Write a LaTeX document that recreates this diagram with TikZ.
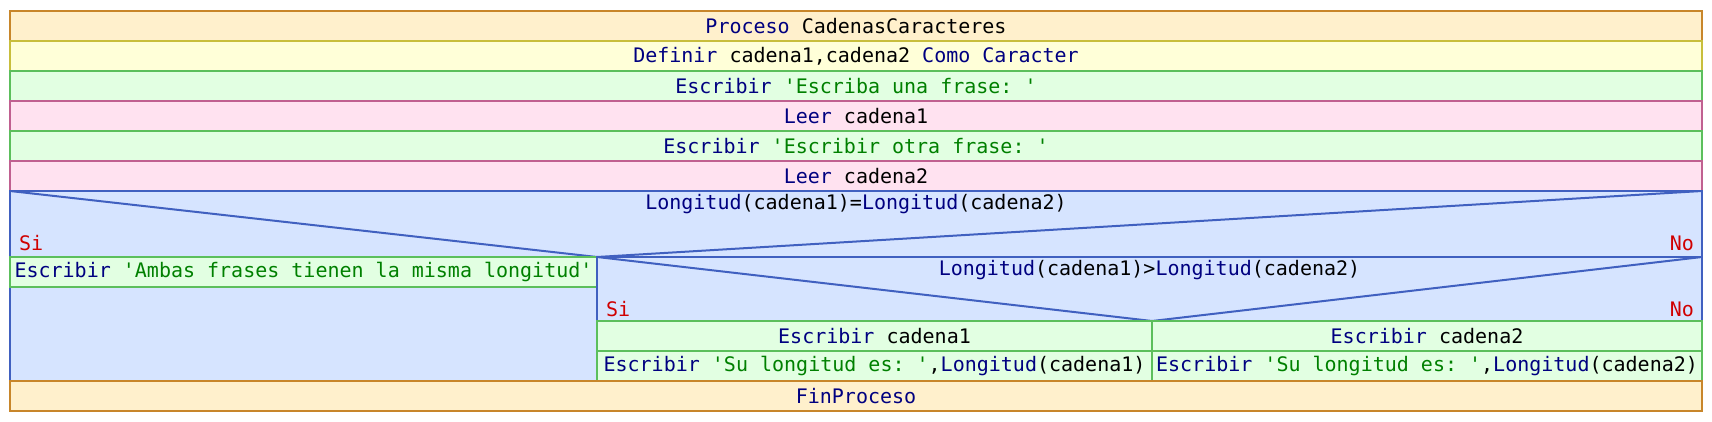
\documentclass[tikz,border=0pt]{standalone}
\usepackage{fontspec}
\setmonofont{DejaVu Sans Mono}
\usepackage{xcolor}
\usetikzlibrary{positioning}

\definecolor{procfill}{HTML}{FFF0CC}
\definecolor{procline}{HTML}{C8862A}
\definecolor{deffill}{HTML}{FFFFD8}
\definecolor{defline}{HTML}{C8BE3C}
\definecolor{wrtfill}{HTML}{E2FFE2}
\definecolor{wrtline}{HTML}{5CBF5C}
\definecolor{readfill}{HTML}{FFE2F0}
\definecolor{readline}{HTML}{C06090}
\definecolor{condfill}{HTML}{D6E4FF}
\definecolor{condline}{HTML}{4060C0}
\definecolor{kwcol}{HTML}{000080}
\definecolor{strcol}{HTML}{008000}
\definecolor{sicol}{HTML}{D00000}

\newcommand{\kw}[1]{\textcolor{kwcol}{#1}}
\newcommand{\lit}[1]{\textcolor{strcol}{#1}}

\tikzset{
  procbox/.style={draw=procline, fill=procfill},
  defbox/.style={draw=defline, fill=deffill},
  wrtbox/.style={draw=wrtline, fill=wrtfill},
  readbox/.style={draw=readline, fill=readfill},
  condbox/.style={draw=condline, fill=condfill},
  txt/.style={font=\ttfamily, inner sep=0pt},
  sino/.style={txt, text=sicol}
}

\begin{document}
\begin{tikzpicture}[x=0.5pt, y=-0.5pt, line width=1pt]
  \useasboundingbox (0,0) rectangle (1712,422);

  % secuencia inicial
  \filldraw[procbox] (10,11) rectangle (1702,41);
  \node[txt] (proc) at (856,26) {\kw{Proceso} CadenasCaracteres};
  \filldraw[defbox] (10,41) rectangle (1702,71);
  \node[txt] (def) at (856,56) {\kw{Definir} cadena1,cadena2 \kw{Como} \kw{Caracter}};
  \filldraw[wrtbox] (10,71) rectangle (1702,101);
  \node[txt] (wrt1) at (856,86) {\kw{Escribir} \lit{'Escriba una frase: '}};
  \filldraw[readbox] (10,101) rectangle (1702,131);
  \node[txt] (read1) at (856,116) {\kw{Leer} cadena1};
  \filldraw[wrtbox] (10,131) rectangle (1702,161);
  \node[txt] (wrt2) at (856,146) {\kw{Escribir} \lit{'Escribir otra frase: '}};
  \filldraw[readbox] (10,161) rectangle (1702,191);
  \node[txt] (read2) at (856,176) {\kw{Leer} cadena2};

  % primera condicion
  \filldraw[condbox] (10,191) rectangle (1702,381);
  \coordinate (c1l) at (10,191);
  \coordinate (c1v) at (597,257);
  \coordinate (c1r) at (1702,191);
  \draw[condline] (c1l) -- (c1v) -- (c1r);
  \node[txt] (cond1) at (856,204) {\kw{Longitud}(cadena1)=\kw{Longitud}(cadena2)};
  \node[sino, anchor=west] (si1) at (18,243) {Si};
  \node[sino, anchor=east] (no1) at (1695,243) {No};

  \filldraw[wrtbox] (10,257) rectangle (597,287);
  \node[txt] (ambas) at (303.5,272) {\kw{Escribir} \lit{'Ambas frases tienen la misma longitud'}};

  % segunda condicion
  \filldraw[condbox] (597,257) rectangle (1702,381);
  \coordinate (c2l) at (597,257);
  \coordinate (c2v) at (1152,321);
  \coordinate (c2r) at (1702,257);
  \draw[condline] (c2l) -- (c2v) -- (c2r);
  \node[txt] (cond2) at (1149.5,270) {\kw{Longitud}(cadena1)>\kw{Longitud}(cadena2)};
  \node[sino, anchor=west] (si2) at (605,309) {Si};
  \node[sino, anchor=east] (no2) at (1695,309) {No};

  \filldraw[wrtbox] (597,321) rectangle (1152,351);
  \node[txt] (wc1) at (874.5,336) {\kw{Escribir} cadena1};
  \filldraw[wrtbox] (597,351) rectangle (1152,381);
  \node[txt] (wl1) at (874.5,366) {\kw{Escribir} \lit{'Su longitud es: '},\kw{Longitud}(cadena1)};
  \filldraw[wrtbox] (1152,321) rectangle (1702,351);
  \node[txt] (wc2) at (1427,336) {\kw{Escribir} cadena2};
  \filldraw[wrtbox] (1152,351) rectangle (1702,381);
  \node[txt] (wl2) at (1427,366) {\kw{Escribir} \lit{'Su longitud es: '},\kw{Longitud}(cadena2)};

  \filldraw[procbox] (10,381) rectangle (1702,411);
  \node[txt] (fin) at (856,396) {\kw{FinProceso}};
\end{tikzpicture}
\end{document}
